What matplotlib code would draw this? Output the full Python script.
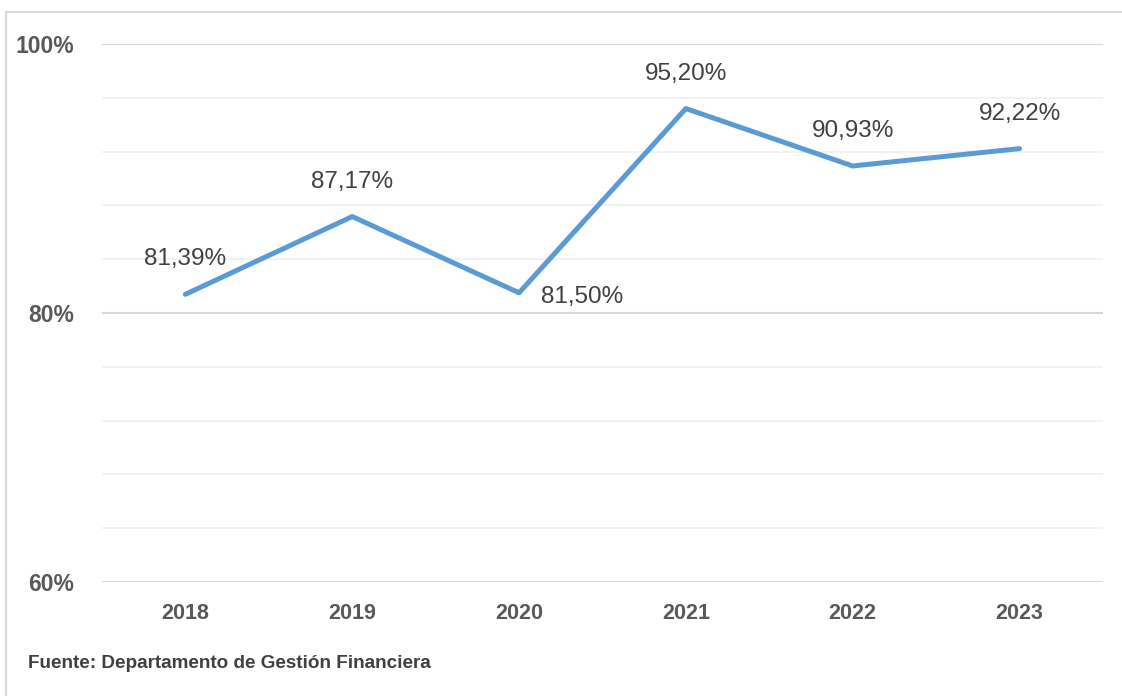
import matplotlib.pyplot as plt
from matplotlib.patches import Rectangle
from matplotlib.ticker import MultipleLocator, FixedLocator

years = ["2018", "2019", "2020", "2021", "2022", "2023"]
values = [81.39, 87.17, 81.50, 95.20, 90.93, 92.22]
labels = ["81,39%", "87,17%", "81,50%", "95,20%", "90,93%", "92,22%"]
y_ticks = [60, 80, 100]
y_tick_labels = ["60%", "80%", "100%"]
source = "Fuente: Departamento de Gestión Financiera"

NARROW = ["Liberation Sans Narrow", "Liberation Sans", "DejaVu Sans"]


def plot_chart():
    fig = plt.figure(figsize=(11.22, 6.96), dpi=100)
    ax = fig.add_axes([0.0909, 0.1638, 0.8921, 0.773])

    xs = list(range(len(years)))
    ax.plot(xs, values, color="#5B9BD5", linewidth=3.6, solid_capstyle="round", zorder=3)

    # data labels: above the point, except 2020 which sits to the right
    for i, (v, lab) in enumerate(zip(values, labels)):
        off = (63, -4) if i == 2 else (0, 35)
        ax.annotate(lab, (i, v), xytext=off, textcoords="offset pixels",
                    ha="center", va="center", fontsize=17.5, color="#404040", family=NARROW)

    ax.set_xlim(-0.5, len(years) - 0.5)
    ax.set_ylim(60, 100)
    ax.set_xticks(xs)
    ax.set_xticklabels(years, fontsize=15.5, fontweight="bold", color="#595959", family=NARROW)
    ax.yaxis.set_major_locator(FixedLocator(y_ticks))
    ax.set_yticklabels(y_tick_labels, fontsize=16.5, fontweight="bold", color="#595959", family=NARROW)
    ax.yaxis.set_minor_locator(MultipleLocator(4))
    ax.tick_params(axis="both", which="both", length=0)
    ax.tick_params(axis="y", pad=20)
    ax.tick_params(axis="x", pad=15)

    ax.grid(axis="y", which="major", color="#D9D9D9", linewidth=1.5, zorder=0)
    ax.grid(axis="y", which="minor", color="#F0F0F0", linewidth=1.2, zorder=0)
    for s in ax.spines.values():
        s.set_visible(False)

    fig.text(28 / 1122, 1 - 663 / 696, source, fontsize=13.6, fontweight="bold",
             color="#404040", va="center", ha="left", family=NARROW)

    # outer frame (cropped at right and bottom)
    fig.patches.append(Rectangle((6 / 1122, -0.1), 1.2, 1.1 - 12 / 696,
                                 transform=fig.transFigure, fill=False,
                                 edgecolor="#D9D9D9", linewidth=1.5))

    plt.savefig("out.png", dpi=100)


if __name__ == "__main__":
    plot_chart()
